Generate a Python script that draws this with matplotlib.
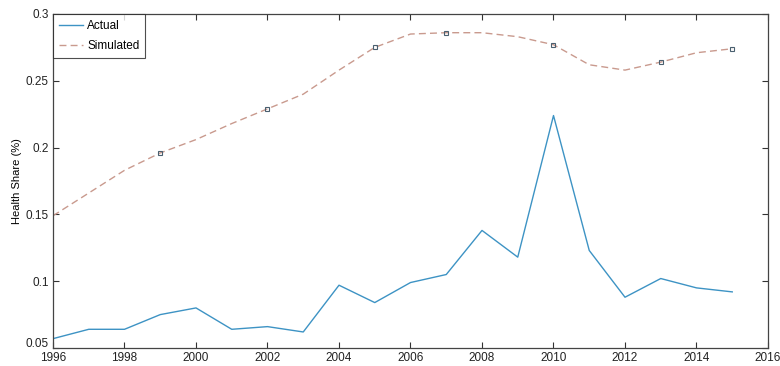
import numpy as np
import matplotlib.pyplot as plt
import matplotlib.transforms as mtransforms

plt.rcParams['font.family'] = ['Liberation Sans', 'DejaVu Sans']

########################### Data ###############################

years     = np.arange(1996, 2016)
actual    = [0.057, 0.064, 0.064, 0.075, 0.080, 0.064, 0.066, 0.062, 0.097, 0.084,
             0.099, 0.105, 0.138, 0.118, 0.224, 0.123, 0.088, 0.102, 0.095, 0.092]
simulated = [0.149, 0.166, 0.183, 0.196, 0.206, 0.218, 0.229, 0.240, 0.258, 0.275,
             0.285, 0.286, 0.286, 0.283, 0.277, 0.262, 0.258, 0.264, 0.271, 0.274]
marked_years = [1999, 2002, 2005, 2007, 2010, 2013, 2015]

x_ticks = np.arange(1996, 2017, 2)
y_ticks = [0.05, 0.1, 0.15, 0.2, 0.25, 0.3]
y_tick_labels = ['0.05', '0.1', '0.15', '0.2', '0.25', '0.3']

########################### Plot ###############################

fig = plt.figure(figsize=(7.8, 3.66), dpi=100)
ax = fig.add_axes([53/780, 1 - 348/366, 715/780, 334/366])

ax.plot(years, actual, '-', color='#3d93c4', lw=1.0, label='Actual')
ax.plot(years, simulated, '--', color='#c99a8e', lw=1.0, dashes=(5, 3), label='Simulated')

idx = [list(years).index(y) for y in marked_years]
ax.plot(years[idx], np.array(simulated)[idx], 's', ms=3, mfc='none',
        mec='#4a6070', mew=0.8, ls='none')

ax.set_xlim(1996, 2016)
ax.set_ylim(0.05, 0.3)
ax.set_xticks(x_ticks)
ax.set_yticks(y_ticks)
ax.set_yticklabels(y_tick_labels)
ax.tick_params(direction='in', top=True, right=True, labelsize=8.5, length=4,
               width=0.8, color='#333333', labelcolor='#222222')
ax.tick_params(axis='x', pad=3)
ax.tick_params(axis='y', pad=3)
for s in ax.spines.values():
    s.set_color('#444444')
    s.set_linewidth(0.9)
ax.set_ylabel('Health Share (%)', fontsize=8, labelpad=3)

# lift the bottom y label a little so it clears the first year label
lowest = ax.get_yticklabels()[0]
lowest.set_transform(lowest.get_transform() +
                     mtransforms.ScaledTranslation(0, 4/72, fig.dpi_scale_trans))

leg = ax.legend(loc='upper left', fontsize=8.5, frameon=True, fancybox=False,
                borderaxespad=0, handlelength=2.0, handletextpad=0.4,
                borderpad=0.5, labelspacing=0.7)
leg.get_frame().set_edgecolor('#222222')
leg.get_frame().set_linewidth(0.8)

plt.savefig('out.png', dpi=100)
